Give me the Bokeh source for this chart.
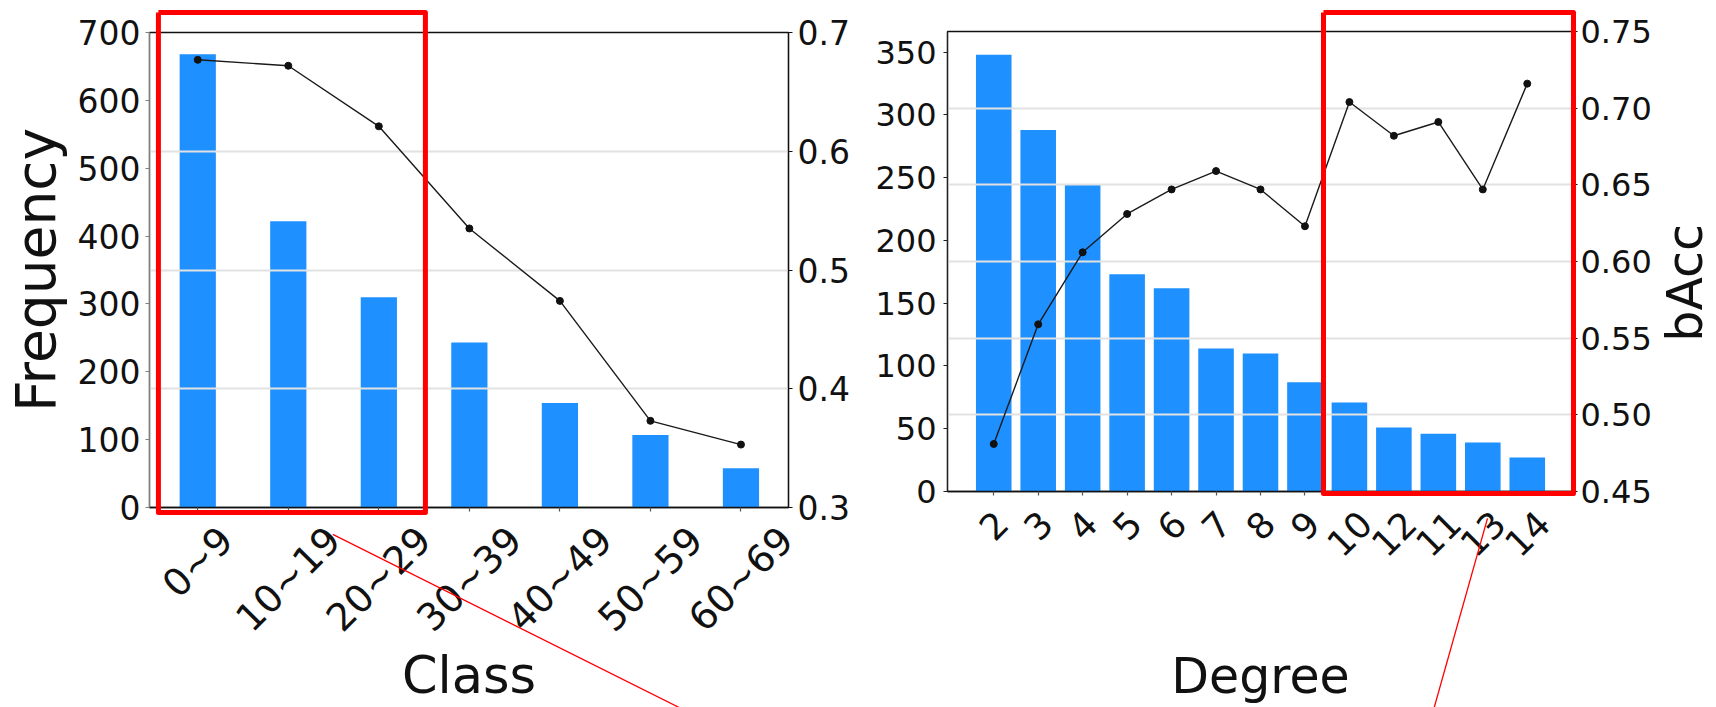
import math
from bokeh.plotting import figure
from bokeh.layouts import row, column
from bokeh.models import (ColumnDataSource, Range1d, LinearAxis, FixedTicker,
                          PrintfTickFormatter, Grid)
from bokeh.core.properties import value
from bokeh.embed import file_html
from bokeh.resources import INLINE

# ---------------- data ----------------
class_labels = ["0~9", "10~19", "20~29", "30~39", "40~49", "50~59", "60~69"]
class_freq = [668, 422, 310, 243, 154, 107, 58]
class_bacc = [0.677, 0.672, 0.621, 0.535, 0.474, 0.373, 0.353]
class_freq_ticks = [0, 100, 200, 300, 400, 500, 600, 700]
class_bacc_ticks = [0.3, 0.4, 0.5, 0.6, 0.7]

degree_labels = ["2", "3", "4", "5", "6", "7", "8", "9", "10", "12", "11", "13", "14"]
degree_freq = [348, 288, 245, 173, 162, 114, 110, 87, 71, 51, 46, 39, 27]
degree_bacc = [0.481, 0.559, 0.606, 0.631, 0.647, 0.659, 0.647, 0.623,
               0.704, 0.682, 0.691, 0.647, 0.716]
degree_freq_ticks = [0, 50, 100, 150, 200, 250, 300, 350]
degree_bacc_ticks = [0.45, 0.50, 0.55, 0.60, 0.65, 0.70, 0.75]

# ---------------- style ----------------
FONT = "DejaVu Sans"
BAR = "#1e90ff"
INK = "#111111"
RED = "#ff0000"
GRIDC = "#e2e2e2"
ADVANCE = {"~": 0.838}          # DejaVu Sans advances (em); digits = 0.636


def text_width(s, fs):
    return sum(ADVANCE.get(ch, 0.636) for ch in s) * fs


def build(labels, freq, bacc, freq_max, bacc_lo, bacc_hi, freq_ticks, bacc_ticks,
          bacc_fmt, bar_width, pad_lo, pad_hi, width, height, borders, tick_fs,
          xtick_fs, xlab_c0, left_axis_color, std_left, std_right):
    n = len(labels)
    xs = list(range(n))
    p = figure(width=width, height=height, output_backend="svg", toolbar_location=None,
               x_range=Range1d(-pad_lo, n - 1 + pad_hi), y_range=Range1d(0, freq_max),
               min_border_left=borders[0], min_border_right=borders[1],
               min_border_top=borders[2], min_border_bottom=borders[3])
    p.background_fill_color = "white"
    p.border_fill_color = "white"
    p.outline_line_color = "#111111"
    p.outline_line_width = 1.3
    p.xgrid.visible = False
    p.ygrid.visible = False
    p.extra_y_ranges = {"acc": Range1d(bacc_lo, bacc_hi)}

    src = ColumnDataSource(dict(x=xs, freq=freq, acc=bacc))
    p.vbar(x="x", top="freq", width=bar_width, source=src, fill_color=BAR,
           line_color=None, level="image")
    p.line("x", "acc", source=src, y_range_name="acc", line_color="#1a1a1a",
           line_width=1.4)
    p.scatter("x", "acc", source=src, y_range_name="acc", size=7,
              fill_color="#111111", line_color="#111111")

    ax_r = LinearAxis(y_range_name="acc", ticker=FixedTicker(ticks=bacc_ticks),
                      formatter=PrintfTickFormatter(format=bacc_fmt))
    p.add_layout(ax_r, "right")
    g = Grid(dimension=1, ticker=ax_r.ticker, y_range_name="acc",
             grid_line_color=GRIDC, grid_line_width=2)
    p.add_layout(g)

    ax_l = p.yaxis[0]
    ax_l.ticker = FixedTicker(ticks=freq_ticks)
    ax_b = p.xaxis[0]
    ax_b.ticker = FixedTicker(ticks=xs)
    ax_b.major_label_overrides = {i: "" for i in xs}
    ax_b.major_label_text_font_size = "1px"

    for ax, col, std in ((ax_l, left_axis_color, std_left), (ax_r, "#111111", std_right),
                         (ax_b, "#111111", 0)):
        ax.axis_line_color = col
        ax.axis_line_width = 1.3
        ax.major_tick_line_color = col
        ax.major_tick_line_width = 1.2
        ax.major_tick_out = 4
        ax.major_tick_in = 0
        ax.minor_tick_line_color = None
        ax.major_label_standoff = std
        ax.major_label_text_font = FONT
        ax.major_label_text_color = INK
        ax.axis_label_text_font = FONT
        ax.axis_label_text_font_style = "normal"
        ax.axis_label_text_color = INK
    ax_l.major_label_text_font_size = f"{tick_fs}px"
    ax_r.major_label_text_font_size = f"{tick_fs}px"
    ax_b.major_tick_line_color = "#555555"

    # rotated category labels, centred on their ticks (as in the reference)
    frame_h = height - borders[2] - borders[3]
    per_px = freq_max / frame_h
    ys = [-(xlab_c0 + 0.3536 * text_width(lab, xtick_fs)) * per_px for lab in labels]
    lsrc = ColumnDataSource(dict(x=xs, y=ys, text=labels))
    p.text("x", "y", text="text", source=lsrc, angle=math.pi / 4, text_align="center",
           text_baseline="middle", text_font=value(FONT),
           text_font_size=value(f"{xtick_fs}px"), text_color=INK, level="overlay")
    return p, ax_l, ax_r, ax_b


def to_data(p, frame, px, py):
    l, r, t, b = frame
    xr, yr = p.x_range, p.y_range
    x = xr.start + (px - l) / (r - l) * (xr.end - xr.start)
    y = yr.start + (b - py) / (b - t) * (yr.end - yr.start)
    return x, y


# ---------------- left panel: Class ----------------
L_FRAME = (143, 788, 32, 509)      # page px of the plot frame (left, right, top, bottom)
p1, l_ax, r_ax1, b_ax1 = build(class_labels, class_freq, class_bacc, 700, 0.3, 0.7,
                               class_freq_ticks, class_bacc_ticks, "%.1f", 0.4, 0.533,
                               0.525, 870, 707, (143, 82, 32, 198), 33, 38, 26.5,
                               "#808080", 5, 5)
b_ax1.axis_label = "Class"
b_ax1.axis_label_text_font_size = "51px"
b_ax1.axis_label_standoff = 134
l_ax.axis_label = "Frequency"
l_ax.axis_label_text_font_size = "55px"
l_ax.axis_label_standoff = 7

# ---------------- right panel: Degree ----------------
R_FRAME = (947, 1573, 31, 493)
p2, l_ax2, r_ax2, b_ax2 = build(degree_labels, degree_freq, degree_bacc, 366.5, 0.45, 0.75,
                                degree_freq_ticks, degree_bacc_ticks, "%.2f", 0.8, 1.04,
                                1.04, 846, 707, (77, 143, 31, 214), 32, 36, 26,
                                "#222222", 7, 3)
b_ax2.axis_label = "Degree"
b_ax2.axis_label_text_font_size = "49px"
b_ax2.axis_label_standoff = 152

# right-hand axis title (reads bottom-to-top, as in the reference)
bx, by = to_data(p2, R_FRAME, 1685, 283.5)
p2.text(x=[bx], y=[by], text=["bAcc"], angle=math.pi / 2, text_align="center",
        text_baseline="middle", text_font=value(FONT), text_font_size=value("49px"),
        text_color=INK, level="overlay")


def red_shapes(p, frame, shapes):
    xs, ys, ws = [], [], []
    for pts, lw in shapes:
        d = [to_data(p, frame, a, b) for a, b in pts]
        xs.append([q[0] for q in d])
        ys.append([q[1] for q in d])
        ws.append(lw)
    src = ColumnDataSource(dict(xs=xs, ys=ys, w=ws))
    p.multi_line("xs", "ys", source=src, line_color=RED, line_width="w",
                 line_join="round", level="overlay")


# red call-out boxes and leader lines
red_shapes(p1, L_FRAME, [
    ([(152, 12), (421.5, 12), (421.5, 514), (152, 514), (152, 12)], 5),
    ([(328, 536), (690, 716)], 1.3)])
red_shapes(p2, R_FRAME, [
    ([(1323, 12), (1573, 12), (1573, 495), (1323, 495), (1323, 12)], 5),
    ([(1487, 520), (1432, 716)], 1.3)])

layout = row(column(p1), column(p2))
open("out.html", "w").write(file_html(layout, INLINE))
